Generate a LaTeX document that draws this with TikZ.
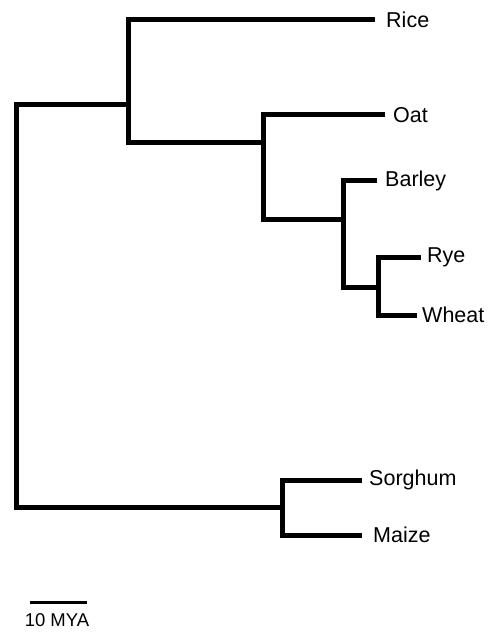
\documentclass[tikz,border=0pt]{standalone}
\usepackage{fontspec}
\setmainfont{Liberation Sans}
\begin{document}
\begin{tikzpicture}[x=1pt,y=-1pt,
  branch/.style={line width=5pt,line join=miter,line cap=butt,black},
  taxon/.style={anchor=west,inner sep=0pt,font=\fontsize{21.5}{24}\selectfont},
  scalebar/.style={line width=3pt,black},
  scalelabel/.style={inner sep=0pt,font=\fontsize{18.5}{21}\selectfont}]
\useasboundingbox (0,0) rectangle (495,636);
% tips
\coordinate (tRice) at (375,20);
\coordinate (tOat) at (385,115);
\coordinate (tBarley) at (377,181);
\coordinate (tRye) at (421,257);
\coordinate (tWheat) at (417,315);
\coordinate (tSorghum) at (362,480);
\coordinate (tMaize) at (362,535);
% internal nodes
\coordinate (R) at (16,300);
\coordinate (A) at (128,105);
\coordinate (B) at (263,143);
\coordinate (C) at (343,219);
\coordinate (D) at (378,287);
\coordinate (E) at (282,507);
% labels
\node[taxon] (rice) at (386,20) {Rice};
\node[taxon] (oat) at (393,115) {Oat};
\node[taxon] (barley) at (385,181) {Barley};
\node[taxon] (rye) at (427,257) {Rye};
\node[taxon] (wheat) at (422,315) {Wheat};
\node[taxon] (sorghum) at (369,480) {Sorghum};
\node[taxon] (maize) at (373,535) {Maize};
% branches
\draw[branch] (A) -| (R) |- (E);
\draw[branch] (tRice) -| (A) |- (B);
\draw[branch] (tOat) -| (B) |- (C);
\draw[branch] (tBarley) -| (C) |- (D);
\draw[branch] (tRye) -| (D) |- (tWheat);
\draw[branch] (tSorghum) -| (E) |- (tMaize);
% scale bar
\coordinate (sbL) at (30,602);
\coordinate (sbR) at (87,602);
\draw[scalebar] (sbL) -- (sbR);
\node[scalelabel] (sblabel) at (57,620) {10 MYA};
\end{tikzpicture}
\end{document}
